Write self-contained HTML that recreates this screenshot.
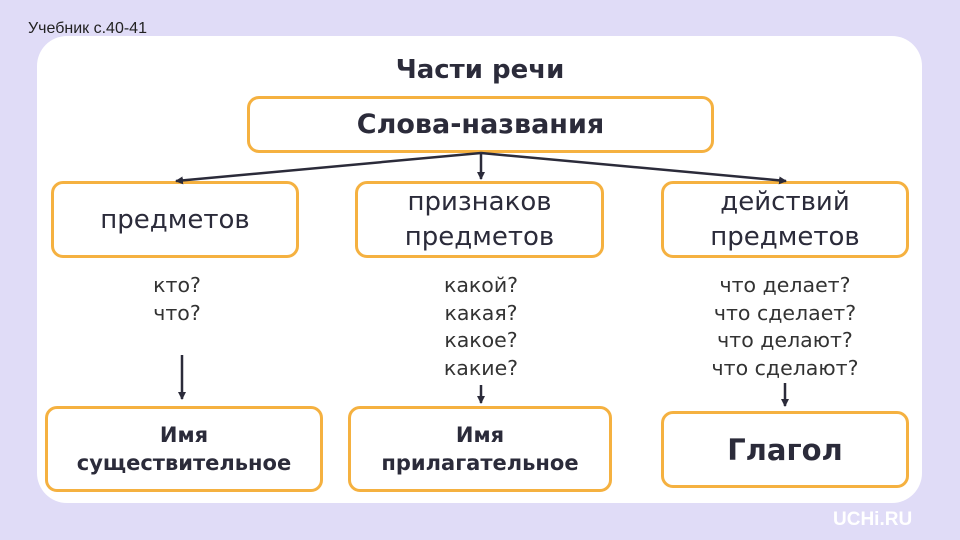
<!DOCTYPE html>
<html><head><meta charset="utf-8"><style>
body{margin:0;width:960px;height:540px;background:#e0dcf7;position:relative;overflow:hidden;font-family:"DejaVu Sans","Liberation Sans",sans-serif;color:#2b2b3a}
.panel{position:absolute;left:37px;top:36px;width:885px;height:467px;background:#fff;border-radius:30px}
.box{position:absolute;border:3px solid #f5b140;border-radius:12px;box-sizing:border-box;display:flex;align-items:center;justify-content:center;text-align:center;background:#fff}
.t{position:absolute;text-align:center;font-size:20.5px;line-height:27.5px;color:#333}
</style></head><body>
<div style="position:absolute;left:28px;top:20px;font-family:'Liberation Sans',sans-serif;font-size:16px;color:#222">Учебник с.40-41</div>
<div class="panel"></div>
<div style="position:absolute;left:0;width:960px;top:55px;text-align:center;font-weight:bold;font-size:26px">Части речи</div>
<div class="box" style="left:247px;top:96px;width:467px;height:57px;font-weight:bold;font-size:27px">Слова-названия</div>
<div class="box" style="left:51px;top:181px;width:248px;height:77px;font-size:26px">предметов</div>
<div class="box" style="left:355px;top:181px;width:249px;height:77px;font-size:26px;line-height:35px">признаков<br>предметов</div>
<div class="box" style="left:661px;top:181px;width:248px;height:77px;font-size:26px;line-height:35px">действий<br>предметов</div>
<div class="t" style="left:77px;width:200px;top:272px">кто?<br>что?</div>
<div class="t" style="left:381px;width:200px;top:272px">какой?<br>какая?<br>какое?<br>какие?</div>
<div class="t" style="left:665px;width:240px;top:272px">что делает?<br>что сделает?<br>что делают?<br>что сделают?</div>
<div class="box" style="left:45px;top:406px;width:278px;height:86px;font-weight:bold;font-size:21px;line-height:28px">Имя<br>существительное</div>
<div class="box" style="left:348px;top:406px;width:264px;height:86px;font-weight:bold;font-size:21px;line-height:28px">Имя<br>прилагательное</div>
<div class="box" style="left:661px;top:411px;width:248px;height:77px;font-weight:bold;font-size:29px">Глагол</div>
<div style="position:absolute;left:833px;top:509px;font-family:'Liberation Sans',sans-serif;font-weight:bold;font-size:19px;color:#fff">UCHi.RU</div>
<svg width="960" height="540" style="position:absolute;left:0;top:0">
<defs><marker id="a" markerWidth="8" markerHeight="8" refX="7" refY="4" orient="auto" markerUnits="userSpaceOnUse"><path d="M0,0L8,4L0,8z" fill="#2b2b3a"/></marker></defs>
<g stroke="#2b2b3a" stroke-width="2.5" fill="none" marker-end="url(#a)">
<line x1="481" y1="153" x2="176" y2="181"/>
<line x1="481" y1="153" x2="481" y2="179"/>
<line x1="481" y1="153" x2="786" y2="181"/>
<line x1="182" y1="355" x2="182" y2="399"/>
<line x1="481" y1="385" x2="481" y2="403"/>
<line x1="785" y1="383" x2="785" y2="406"/>
</g></svg>
</body></html>
